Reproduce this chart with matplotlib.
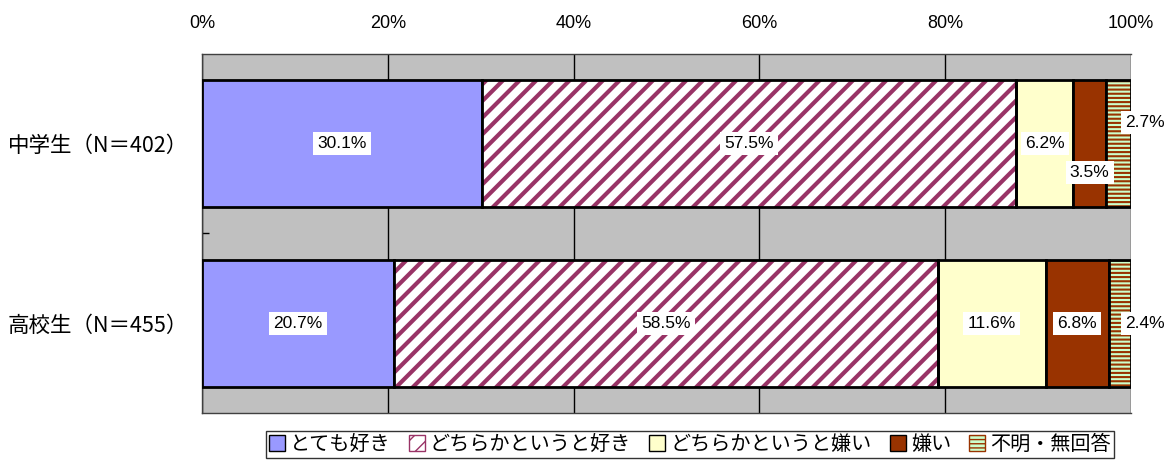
import matplotlib
matplotlib.use("Agg")
import matplotlib.pyplot as plt
from matplotlib.patches import Patch
import numpy as np

plt.rcParams['font.family'] = ['Noto Sans CJK JP', 'DejaVu Sans']

categories = ['中学生（N＝402）', '高校生（N＝455）']
series = ['とても好き', 'どちらかというと好き', 'どちらかというと嫌い', '嫌い', '不明・無回答']
values = {
    'とても好き': [30.1, 20.7],
    'どちらかというと好き': [57.5, 58.5],
    'どちらかというと嫌い': [6.2, 11.6],
    '嫌い': [3.5, 6.8],
    '不明・無回答': [2.7, 2.4],
}
xticklabels = ['0%', '20%', '40%', '60%', '80%', '100%']

facecolors = ['#9999FF', 'white', '#FFFFCC', '#993300', '#CCFFCC']
edgehatch = [None, '#993366', None, None, '#993300']
hatches = [None, '//', None, None, '----']
hatch_lw = [None, 3.0, None, None, 1.5]

fig = plt.figure(figsize=(11.73, 4.61), dpi=100)
ax = fig.add_axes([202/1173, 1-413/461, (1131-202)/1173, (413-54)/461])
ax.set_facecolor('#C0C0C0')

ypos = [1, 0]  # 中学生 top, 高校生 bottom
h = 0.71
left = np.zeros(2)
for i, s in enumerate(series):
    v = np.array(values[s])
    if hatches[i]:
        with plt.rc_context({'hatch.linewidth': hatch_lw[i]}):
            bars = ax.barh(ypos, v, left=left, height=h, color=facecolors[i],
                           hatch=hatches[i], edgecolor=edgehatch[i], linewidth=0, zorder=3)
            for b in bars:
                if hasattr(b, 'set_hatch_linewidth'):
                    b.set_hatch_linewidth(hatch_lw[i])
        ax.barh(ypos, v, left=left, height=h, fill=False,
                edgecolor='black', linewidth=2, zorder=4)
    else:
        ax.barh(ypos, v, left=left, height=h, color=facecolors[i],
                edgecolor='black', linewidth=2, zorder=3)
    for j in range(2):
        cx = left[j] + v[j] / 2
        cy = ypos[j]
        if s == '不明・無回答':
            cx = left[j] + v[j] + 1.5
            cy = ypos[j] + (0.12 if j == 0 else 0.0)
        elif s == '嫌い' and j == 0:
            cy = ypos[j] - 0.16
        ax.text(cx, cy, f'{v[j]:.1f}%', ha='center', va='center', fontsize=12.5,
                family=['Liberation Sans', 'DejaVu Sans'], zorder=6,
                bbox=dict(facecolor='white', edgecolor='none', pad=3))
    left += v

ax.set_xlim(0, 100)
ax.set_ylim(-0.5, 1.5)
ax.set_xticks([0, 20, 40, 60, 80, 100])
ax.set_xticklabels(xticklabels, family=['Liberation Sans', 'DejaVu Sans'], fontsize=13)
ax.xaxis.tick_top()
ax.tick_params(axis='x', length=0, pad=16)
ax.grid(axis='x', color='black', linewidth=1, zorder=1)
ax.set_yticks(ypos)
ax.set_yticklabels(categories, fontsize=15.5)
ax.tick_params(axis='y', length=0, pad=10)
ax.set_yticks([0.5], minor=True)
ax.tick_params(axis='y', which='minor', length=5, direction='in', width=1)
for sp in ax.spines.values():
    sp.set_linewidth(1)
    sp.set_color('#404040')
ax.spines['right'].set_visible(False)
ax.set_axisbelow(True)

handles = []
for i, s in enumerate(series):
    if hatches[i]:
        handles.append(Patch(facecolor=facecolors[i], hatch=hatches[i],
                             edgecolor=edgehatch[i], linewidth=1, label=s))
    else:
        handles.append(Patch(facecolor=facecolors[i], edgecolor='black', linewidth=1, label=s))
leg = fig.legend(handles=handles, loc='upper center', bbox_to_anchor=(690/1173, 1-431/461),
                 ncol=5, fontsize=14.5, frameon=True, fancybox=False, edgecolor='black',
                 handlelength=0.8, handleheight=0.8, handletextpad=0.25, columnspacing=0.9,
                 borderpad=0.15, borderaxespad=0)
leg.get_frame().set_linewidth(1)

fig.savefig('out.png', dpi=100)
